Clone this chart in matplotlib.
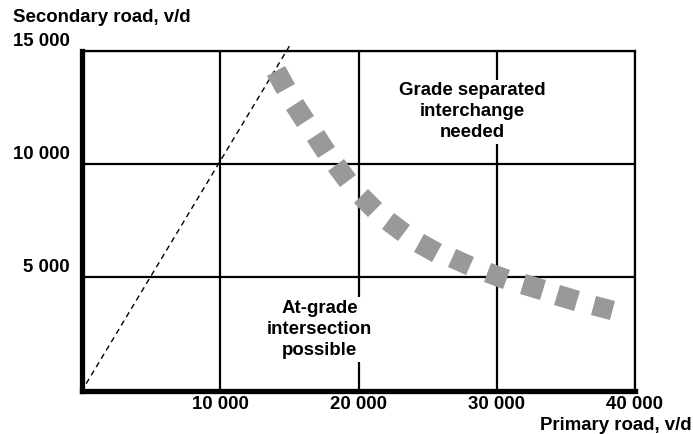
import matplotlib.pyplot as plt
import matplotlib.transforms as mtransforms
from matplotlib.markers import MarkerStyle
import numpy as np

plt.rcParams['font.family'] = ['Liberation Sans', 'DejaVu Sans']
plt.rcParams['font.weight'] = 'bold'

# threshold curve (vehicles per day)
primary = [14400, 15800, 17300, 18800, 20700, 22700, 25000, 27400, 30000, 32600, 35100, 37700]
secondary = [13700, 12250, 10900, 9600, 8270, 7200, 6300, 5660, 5040, 4550, 4070, 3620]

# equal-volume reference line
diag_x = [300, 15000]
diag_y = [300, 15200]

x_ticks = [10000, 20000, 30000, 40000]
x_labels = ['10 000', '20 000', '30 000', '40 000']
y_ticks = [5000, 10000, 15000]
y_labels = ['5 000', '10 000', '15 000']

FS = 13.4
GRAY = '#999999'

fig = plt.figure(figsize=(6.93, 4.34), dpi=100)
ax = fig.add_axes([82 / 693, 43.5 / 434, (635 - 82) / 693, (390.5 - 50.7) / 434])
ax.set_xlim(0, 40000)
ax.set_ylim(0, 15000)

ax.set_xticks(x_ticks)
ax.set_xticklabels(x_labels, fontsize=FS, fontweight='bold')
ax.set_yticks(y_ticks)
ax.set_yticklabels(y_labels, fontsize=FS, fontweight='bold')
ax.tick_params(axis='both', length=0)
ax.tick_params(axis='x', pad=4)
ax.tick_params(axis='y', pad=9)
ax.grid(True, color='black', linewidth=1.6, zorder=0)
ax.set_axisbelow(True)

for side in ['left', 'bottom']:
    ax.spines[side].set_linewidth(3.8)
for side in ['top', 'right']:
    ax.spines[side].set_linewidth(1.6)

# shift y labels up so they sit above the grid lines
offset = mtransforms.ScaledTranslation(0, 8.3 / 72, fig.dpi_scale_trans)
for label in ax.get_yticklabels():
    label.set_transform(label.get_transform() + offset)

ax.plot(diag_x, diag_y, color='black', linewidth=1.0, linestyle=(0, (4, 3)),
        clip_on=False, zorder=2)

# grey square "dots", each turned along the curve
pts = ax.transData.transform(np.column_stack([primary, secondary]))
grad = np.gradient(pts, axis=0)
angles = np.degrees(np.arctan2(grad[:, 1], grad[:, 0]))
for px, sy, ang in zip(primary, secondary, angles):
    mk = MarkerStyle('s', transform=mtransforms.Affine2D().rotate_deg(ang))
    ax.plot(px, sy, marker=mk, markersize=14.5, color=GRAY, markeredgewidth=0,
            linestyle='none', zorder=3)

ax.text(28200, 12300, 'Grade separated\ninterchange\nneeded', ha='center', va='center',
        fontsize=FS, fontweight='bold', linespacing=1.3,
        bbox=dict(facecolor='white', edgecolor='none', pad=2), zorder=4)
ax.text(17200, 2700, 'At-grade\nintersection\npossible', ha='center', va='center',
        fontsize=FS, fontweight='bold', linespacing=1.3,
        bbox=dict(facecolor='white', edgecolor='none', pad=2), zorder=4)

fig.text(13 / 693, 1 - 17 / 434, 'Secondary road, v/d', ha='left', va='center',
         fontsize=FS, fontweight='bold')
fig.text(692 / 693, 1 - 426 / 434, 'Primary road, v/d', ha='right', va='center',
         fontsize=FS, fontweight='bold')

fig.savefig('out.png', dpi=100)
